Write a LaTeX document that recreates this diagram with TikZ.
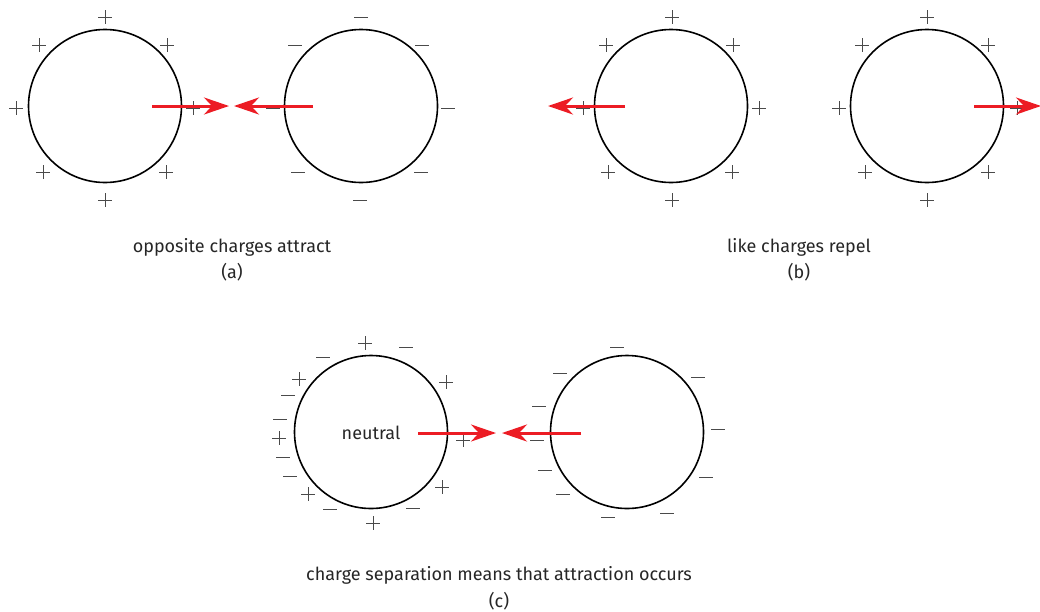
\documentclass[tikz,border=0pt]{standalone}
\usepackage{fontspec}
\setmainfont{Fira Sans}
\usetikzlibrary{arrows.meta}
\definecolor{arrred}{HTML}{EC1C24}
\definecolor{chg}{HTML}{4A4A4A}
\tikzset{
  ball/.style={circle,draw=black,line width=1.6pt,minimum size=153pt,inner sep=0pt},
  force/.style={draw=arrred,line width=3pt,-{Stealth[length=25pt,width=17pt,inset=8pt]}},
  captext/.style={font=\fontsize{18}{21}\selectfont,text=black!85,inner sep=0pt},
  chgplus/.pic={\draw[chg,line width=1pt] (-7,0)--(7,0) (0,-7)--(0,7);},
  chgminus/.pic={\draw[chg,line width=1pt] (-7,0)--(7,0);}
}
\begin{document}
\begin{tikzpicture}[x=1pt,y=-1pt]
\useasboundingbox (0,0) rectangle (1040,611);
% (a)
\node[ball] (a1) at (105,106) {};
\node[ball] (a2) at (361,106) {};
\foreach \x/\y in {105/17,39/45,167/45,16/108,193/108,43/172,166/172,105/200}
  \pic at (\x,\y) {chgplus};
\foreach \x/\y in {361/17,295/45,422/45,273/108,448/108,298/172,421/172,360/200}
  \pic at (\x,\y) {chgminus};
\coordinate (a1s) at (152,106); \coordinate (a1t) at (229,106);
\coordinate (a2s) at (313,106); \coordinate (a2t) at (234,106);
\draw[force] (a1s) -- (a1t);
\draw[force] (a2s) -- (a2t);
\node[captext] (capa) at (232,247) {opposite charges attract};
\node[captext] (laba) at (232,272) {(a)};
% (b)
\node[ball] (b1) at (671,106) {};
\node[ball] (b2) at (927,106) {};
\foreach \x/\y in {672/17,606/45,733/45,583/108,759/108,608/172,732/172,672/200,
                   927/17,862/45,988/45,839/108,1017/108,865/172,988/172,927/200}
  \pic at (\x,\y) {chgplus};
\coordinate (b1s) at (625,106); \coordinate (b1t) at (548,106);
\coordinate (b2s) at (974,106); \coordinate (b2t) at (1041,106);
\draw[force] (b1s) -- (b1t);
\draw[force] (b2s) -- (b2t);
\node[captext] (capb) at (799,247) {like charges repel};
\node[captext] (labb) at (799,272) {(b)};
% (c)
\node[ball] (c1) at (371,432) {};
\node[ball] (c2) at (627,432) {};
\node[captext] (neu) at (371,433) {neutral};
\foreach \x/\y in {365/343,299/379,446/382,279/438,463/440,442/487,308/494,373/523}
  \pic at (\x,\y) {chgplus};
\foreach \x/\y in {406/347,323/357,288/395,280/419,283/457,290/476,330/509,413/508}
  \pic at (\x,\y) {chgminus};
\foreach \x/\y in {617/347,560/373,698/377,539/406,537/440,718/429,545/470,706/477,563/494,667/513,608/517}
  \pic at (\x,\y) {chgminus};
\coordinate (c1s) at (418,433); \coordinate (c1t) at (496,433);
\coordinate (c2s) at (581,433); \coordinate (c2t) at (502,433);
\draw[force] (c1s) -- (c1t);
\draw[force] (c2s) -- (c2t);
\node[captext] (capc) at (499,575) {charge separation means that attraction occurs};
\node[captext] (labc) at (499,601) {(c)};
\end{tikzpicture}
\end{document}
